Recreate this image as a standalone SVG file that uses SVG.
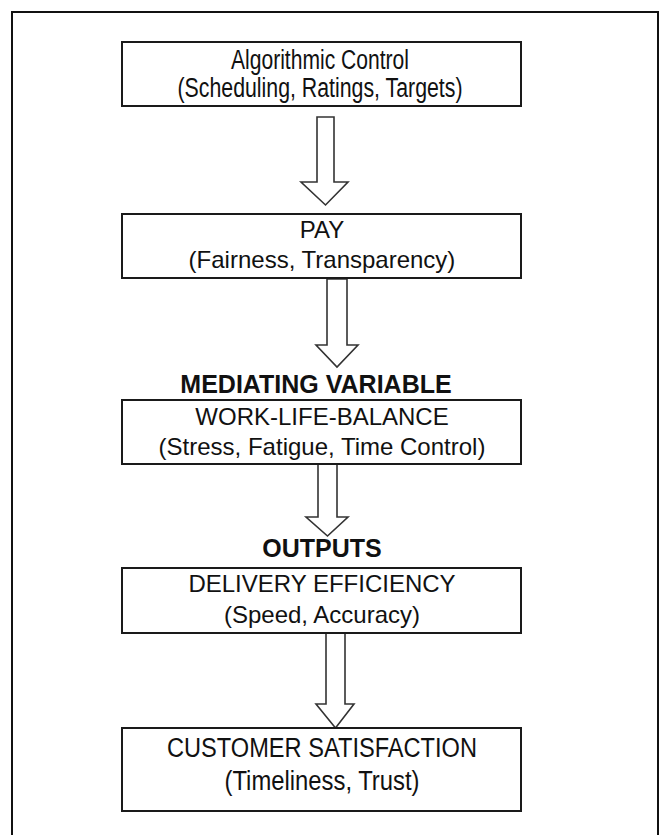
<svg xmlns="http://www.w3.org/2000/svg" width="670" height="835" viewBox="0 0 670 835">
<style>
.box{fill:#fff;stroke:#1a1a1a;stroke-width:2}
.t{font-family:"Liberation Sans",Arial,sans-serif;font-size:24px;fill:#111;text-anchor:middle}
.n{font-family:"Liberation Sans",Arial,sans-serif;font-size:27px;fill:#111;text-anchor:middle}
.h{font-family:"Liberation Sans",Arial,sans-serif;font-size:25px;font-weight:bold;fill:#111;text-anchor:middle}
.arr{fill:#fff;stroke:#333;stroke-width:1.6;stroke-linejoin:miter}
</style>
<rect width="670" height="835" fill="#fff"/>
<path d="M12,835 V12 H658 V835" fill="none" stroke="#111" stroke-width="2"/>
<g id="connectors">
<path class="arr" d="M317,117 H334 V182 H348 L325.5,205 L301,182 H317 Z"/>
<path class="arr" d="M327,279 H347 V345 H358 L337,367 L316,345 H327 Z"/>
<path class="arr" d="M318,464 H337 V517 H348 L327.5,536 L306,517 H318 Z"/>
<path class="arr" d="M326,633 H345 V704 H354 L335.5,728 L316,704 H326 Z"/>
</g>
<g id="n1">
<rect class="box" x="122" y="42" width="399" height="64"/>
<text class="n" x="320" y="69" textLength="178" lengthAdjust="spacingAndGlyphs">Algorithmic Control</text>
<text class="n" x="320" y="97" textLength="285" lengthAdjust="spacingAndGlyphs">(Scheduling, Ratings, Targets)</text>
</g>
<g id="n2">
<rect class="box" x="122" y="214" width="399" height="64"/>
<text class="t" x="322" y="238">PAY</text>
<text class="t" x="322" y="268">(Fairness, Transparency)</text>
</g>
<g id="label-mediating">
<text class="h" x="316" y="393">MEDIATING VARIABLE</text>
</g>
<g id="n3">
<rect class="box" x="122" y="400" width="399" height="64"/>
<text class="t" x="322" y="425">WORK-LIFE-BALANCE</text>
<text class="t" x="322" y="455">(Stress, Fatigue, Time Control)</text>
</g>
<g id="label-outputs">
<text class="h" x="322" y="557">OUTPUTS</text>
</g>
<g id="n4">
<rect class="box" x="122" y="568" width="399" height="65"/>
<text class="t" x="322" y="592">DELIVERY EFFICIENCY</text>
<text class="t" x="322" y="623">(Speed, Accuracy)</text>
</g>
<g id="n5">
<rect class="box" x="122" y="728" width="399" height="83"/>
<text class="n" x="322" y="757" textLength="310" lengthAdjust="spacingAndGlyphs">CUSTOMER SATISFACTION</text>
<text class="n" x="322" y="790" textLength="195" lengthAdjust="spacingAndGlyphs">(Timeliness, Trust)</text>
</g>
</svg>
